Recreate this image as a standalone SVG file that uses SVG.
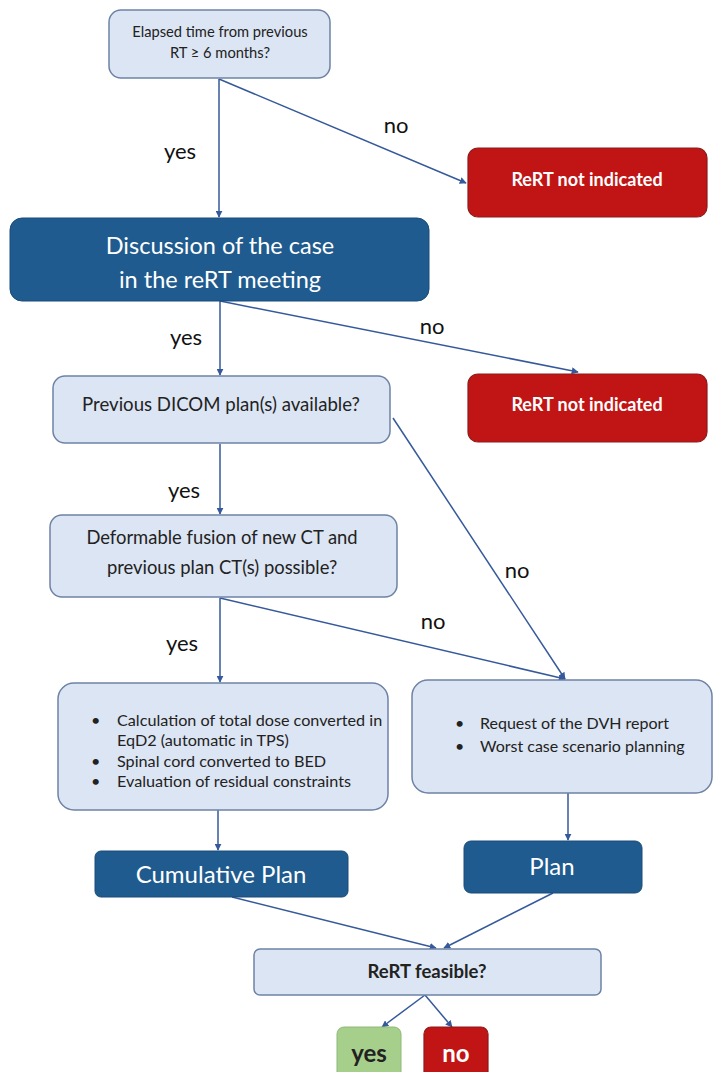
<svg xmlns="http://www.w3.org/2000/svg" width="714" height="1072" viewBox="0 0 714 1072">
<style>
.q{fill:#dce5f3;stroke:#6e82a6;stroke-width:1.5}
.d{fill:#1f5b8e;stroke:#1a4d7a;stroke-width:1}
.r{fill:#c11414;stroke:#8c1c1c;stroke-width:1.2}
.g{fill:#a7cf8c;stroke:#8fb879;stroke-width:1}
.t{font-family:Lato,"Open Sans","Liberation Sans",sans-serif;fill:#222}
.w{font-family:Lato,"Open Sans","Liberation Sans",sans-serif;fill:#fff}
.b{font-weight:bold}
.lbl{font-family:Lato,"Open Sans","Liberation Sans",sans-serif;font-size:22px;fill:#111}
.c line{stroke:#35599a;stroke-width:1.5;fill:none}
</style>
<defs>
<marker id="ah" viewBox="0 0 10 10" refX="9" refY="5" markerWidth="7" markerHeight="7" orient="auto" markerUnits="userSpaceOnUse">
<path d="M0,0 L10,5 L0,10 z" fill="#35599a"/>
</marker>
</defs>
<rect width="714" height="1072" fill="#fff"/>
<g class="c">
<line x1="219" y1="79" x2="219" y2="217" marker-end="url(#ah)"/>
<line x1="219" y1="79" x2="466" y2="183" marker-end="url(#ah)"/>
<line x1="220" y1="301" x2="220" y2="375" marker-end="url(#ah)"/>
<line x1="220" y1="301" x2="578" y2="372" marker-end="url(#ah)"/>
<line x1="220" y1="444" x2="220" y2="514" marker-end="url(#ah)"/>
<line x1="393" y1="418" x2="565" y2="679" marker-end="url(#ah)"/>
<line x1="220" y1="598" x2="220" y2="682" marker-end="url(#ah)"/>
<line x1="220" y1="598" x2="565" y2="679" marker-end="url(#ah)"/>
<line x1="218" y1="810" x2="218" y2="850" marker-end="url(#ah)"/>
<line x1="568" y1="793" x2="568" y2="840" marker-end="url(#ah)"/>
<line x1="232" y1="897" x2="436" y2="948" marker-end="url(#ah)"/>
<line x1="553" y1="893" x2="444" y2="948" marker-end="url(#ah)"/>
<line x1="425" y1="995" x2="382" y2="1027" marker-end="url(#ah)"/>
<line x1="425" y1="995" x2="452" y2="1027" marker-end="url(#ah)"/>
</g>
<g id="labels">
<text class="lbl" x="396" y="133" text-anchor="middle">no</text>
<text class="lbl" x="180" y="159" text-anchor="middle">yes</text>
<text class="lbl" x="432" y="334" text-anchor="middle">no</text>
<text class="lbl" x="186" y="345" text-anchor="middle">yes</text>
<text class="lbl" x="184" y="498" text-anchor="middle">yes</text>
<text class="lbl" x="517" y="578" text-anchor="middle">no</text>
<text class="lbl" x="433" y="629" text-anchor="middle">no</text>
<text class="lbl" x="182" y="651" text-anchor="middle">yes</text>
</g>
<g id="n1">
<rect class="q" x="109" y="10" width="221" height="68" rx="12"/>
<text class="t" x="220" y="37" font-size="14.7" text-anchor="middle">Elapsed time from previous</text>
<text class="t" x="220" y="58" font-size="14.7" text-anchor="middle">RT ≥ 6 months?</text>
</g>
<g id="n2">
<rect class="r" x="468" y="148" width="239" height="69" rx="10"/>
<text class="w b" x="587" y="186" font-size="18" text-anchor="middle">ReRT not indicated</text>
</g>
<g id="n3">
<rect class="d" x="10" y="218" width="419" height="83" rx="12"/>
<text class="w" x="220" y="254" font-size="23.5" text-anchor="middle">Discussion of the case</text>
<text class="w" x="220" y="288" font-size="23.5" text-anchor="middle">in the reRT meeting</text>
</g>
<g id="n4">
<rect class="r" x="468" y="374" width="239" height="68" rx="10"/>
<text class="w b" x="587" y="411" font-size="18" text-anchor="middle">ReRT not indicated</text>
</g>
<g id="n5">
<rect class="q" x="53" y="376" width="337" height="67" rx="12"/>
<text class="t" x="221" y="411" font-size="18.6" text-anchor="middle">Previous DICOM plan(s) available?</text>
</g>
<g id="n6">
<rect class="q" x="50" y="515" width="347" height="82" rx="12"/>
<text class="t" x="222" y="544" font-size="18.4" text-anchor="middle">Deformable fusion of new CT and</text>
<text class="t" x="222" y="574" font-size="18.4" text-anchor="middle">previous plan CT(s) possible?</text>
</g>
<g id="n7">
<rect class="q" x="58" y="683" width="330" height="127" rx="16"/>
<g class="t" font-size="16.2">
<text x="91" y="726">•</text>
<text x="117" y="726">Calculation of total dose converted in</text>
<text x="117" y="746">EqD2 (automatic in TPS)</text>
<text x="91" y="767">•</text>
<text x="117" y="767">Spinal cord converted to BED</text>
<text x="91" y="787">•</text>
<text x="117" y="787">Evaluation of residual constraints</text>
</g>
</g>
<g id="n8">
<rect class="q" x="412" y="680" width="300" height="113" rx="16"/>
<g class="t" font-size="16">
<text x="455" y="729">•</text>
<text x="480" y="729">Request of the DVH report</text>
<text x="455" y="752">•</text>
<text x="480" y="752">Worst case scenario planning</text>
</g>
</g>
<g id="n9">
<rect class="d" x="95" y="851" width="253" height="46" rx="6"/>
<text class="w" x="221" y="883" font-size="24" text-anchor="middle">Cumulative Plan</text>
</g>
<g id="n10">
<rect class="d" x="464" y="841" width="178" height="52" rx="7"/>
<text class="w" x="552" y="875" font-size="24" text-anchor="middle">Plan</text>
</g>
<g id="n11">
<rect class="q" x="254" y="949" width="347" height="46" rx="6"/>
<text class="t b" x="427" y="978" font-size="18.5" text-anchor="middle" fill="#111">ReRT feasible?</text>
</g>
<g id="n12">
<rect class="g" x="337" y="1027" width="64" height="55" rx="7"/>
<text class="t b" x="369" y="1062" font-size="24" text-anchor="middle" fill="#111">yes</text>
</g>
<g id="n13">
<rect class="r" x="424" y="1027" width="64" height="55" rx="7"/>
<text class="w b" x="456" y="1062" font-size="24" text-anchor="middle">no</text>
</g>
</svg>
